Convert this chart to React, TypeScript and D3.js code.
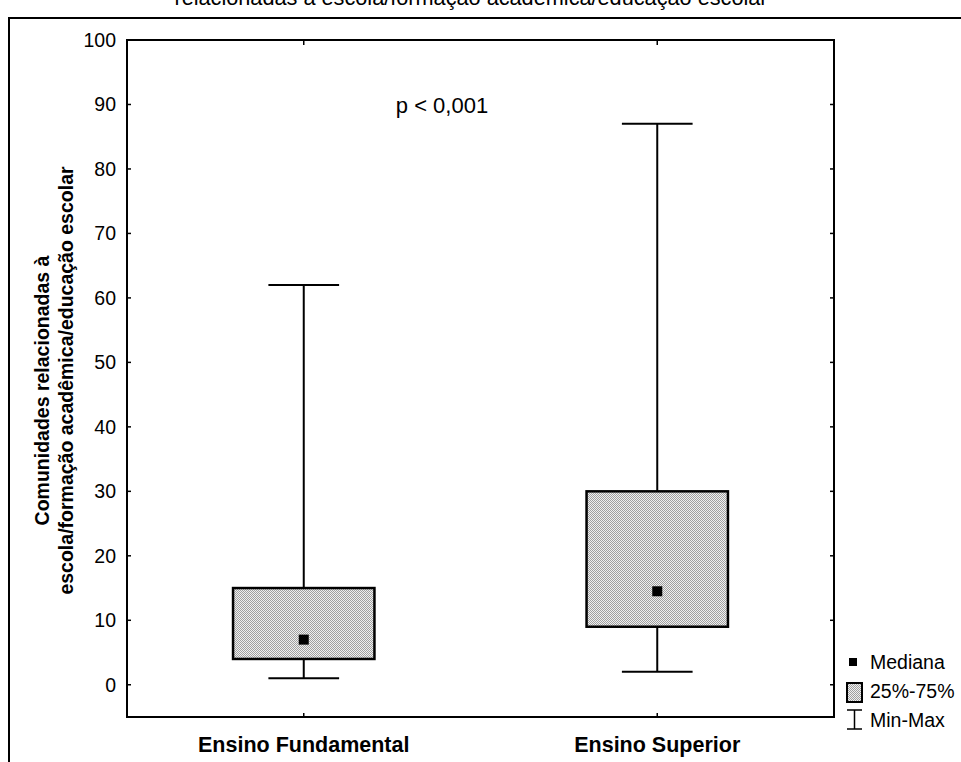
import React from 'react';
import * as d3 from 'd3';

// box plot data
const categories = ['Ensino Fundamental', 'Ensino Superior'];
const minValues = [1, 2];
const q1Values = [4, 9];
const medianValues = [7, 14.5];
const q3Values = [15, 30];
const maxValues = [62, 87];
const yTicks = [0, 10, 20, 30, 40, 50, 60, 70, 80, 90, 100];

const titleText = 'relacionadas à escola/formação acadêmica/educação escolar';
const yLabel1 = 'Comunidades relacionadas à';
const yLabel2 = 'escola/formação acadêmica/educação escolar';
const legendItems = ['Mediana', '25%-75%', 'Min-Max'];

const font = "Arial, 'Liberation Sans', sans-serif";

const App = () => {
  const width = 961;
  const height = 762;
  const left = 127;
  const right = 834;
  const top = 40;
  const bottom = 717;

  const y = d3.scaleLinear().domain([-5, 100]).range([bottom, top]);
  const x = d3.scalePoint<string>().domain(categories).range([left, right]).padding(0.5);
  const boxW = (right - left) * 0.2;
  const capW = boxW / 2;

  return (
    <svg width={width} height={height} style={{ position: 'absolute', left: 0, top: 0, background: '#fff' }}>
      <defs>
        <pattern id="dots" width={2} height={2} patternUnits="userSpaceOnUse">
          <rect width={2} height={2} fill="#f0f0f0" />
          <rect x={0} y={0} width={1} height={1} fill="#a0a0a0" />
          <rect x={1} y={1} width={1} height={1} fill="#a0a0a0" />
        </pattern>
      </defs>

      {/* outer frame, title is cut at the top like in the source */}
      <path d={`M9,${height}V18H${width}`} fill="none" stroke="#000" strokeWidth={2} />
      <text x={471} y={5} textAnchor="middle" fontFamily={font} fontSize={21.7}>{titleText}</text>

      {/* plot frame */}
      <rect x={left} y={top} width={right - left} height={bottom - top} fill="none" stroke="#000" strokeWidth={2} />

      {/* y ticks, both sides, inward */}
      {yTicks.map((t) => (
        <g key={t}>
          <line x1={left} x2={left + 4} y1={y(t)} y2={y(t)} stroke="#000" strokeWidth={1.5} />
          <line x1={right - 4} x2={right} y1={y(t)} y2={y(t)} stroke="#000" strokeWidth={1.5} />
          <text x={left - 11} y={y(t)} dy="0.36em" textAnchor="end" fontFamily={font} fontSize={19.5}>{t}</text>
        </g>
      ))}

      {/* x ticks top and bottom */}
      {categories.map((c) => (
        <g key={c}>
          <line x1={x(c)} x2={x(c)} y1={top} y2={top + 5} stroke="#000" strokeWidth={1.5} />
          <line x1={x(c)} x2={x(c)} y1={bottom - 4} y2={bottom} stroke="#000" strokeWidth={1.5} />
          <text x={x(c)} y={752} textAnchor="middle" fontFamily={font} fontSize={21.5} fontWeight="bold">{c}</text>
        </g>
      ))}

      {/* boxes */}
      {categories.map((c, i) => {
        const cx = x(c)!;
        return (
          <g key={'box' + c}>
            <line x1={cx} x2={cx} y1={y(maxValues[i])} y2={y(q3Values[i])} stroke="#000" strokeWidth={2} />
            <line x1={cx} x2={cx} y1={y(q1Values[i])} y2={y(minValues[i])} stroke="#000" strokeWidth={2} />
            <line x1={cx - capW / 2} x2={cx + capW / 2} y1={y(maxValues[i])} y2={y(maxValues[i])} stroke="#000" strokeWidth={2} />
            <line x1={cx - capW / 2} x2={cx + capW / 2} y1={y(minValues[i])} y2={y(minValues[i])} stroke="#000" strokeWidth={2} />
            <rect
              x={cx - boxW / 2}
              y={y(q3Values[i])}
              width={boxW}
              height={y(q1Values[i]) - y(q3Values[i])}
              fill="url(#dots)"
              stroke="#000"
              strokeWidth={2.5}
            />
            <rect x={cx - 5} y={y(medianValues[i]) - 5} width={10} height={10} fill="#000" />
          </g>
        );
      })}

      <text x={442} y={113} textAnchor="middle" fontFamily={font} fontSize={22}>p &lt; 0,001</text>

      {/* y label */}
      <g transform={`translate(49,${(top + bottom) / 2 + 12}) rotate(-90)`}>
        <text x={0} y={0} textAnchor="middle" fontFamily={font} fontSize={19.5} fontWeight="bold">{yLabel1}</text>
      </g>
      <g transform={`translate(73,${(top + bottom) / 2 + 2}) rotate(-90)`}>
        <text x={0} y={0} textAnchor="middle" fontFamily={font} fontSize={19.5} fontWeight="bold">{yLabel2}</text>
      </g>

      {/* legend */}
      <rect x={849} y={658} width={8} height={8} fill="#000" />
      <rect x={847} y={683} width={15} height={19} fill="url(#dots)" stroke="#000" strokeWidth={2} />
      <path d="M847,710H862M854.5,710V729M847,729H862" fill="none" stroke="#000" strokeWidth={1.5} />
      {legendItems.map((t, i) => (
        <text key={t} x={870} y={662 + i * 29} dy="0.36em" fontFamily={font} fontSize={19.5}>{t}</text>
      ))}
    </svg>
  );
};

export default App;
